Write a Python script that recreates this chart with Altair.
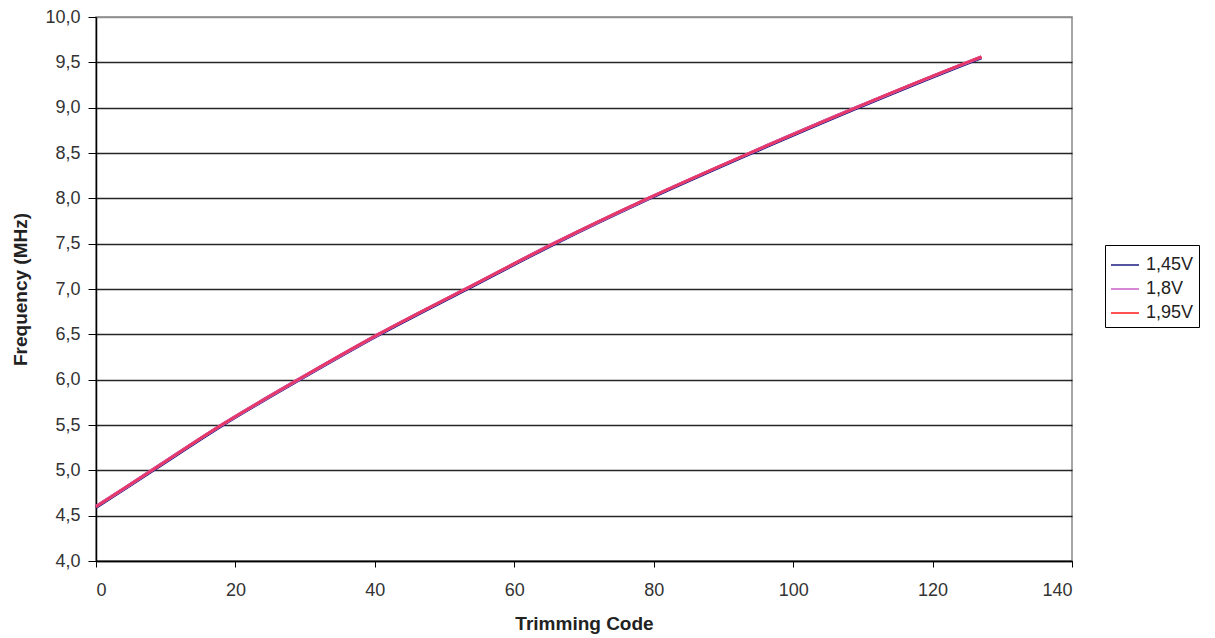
import altair as alt
import pandas as pd

codes = [0, 8, 18, 29, 40.5, 53, 65.6, 79.2, 93.8, 109, 125, 127]
freq_145 = [4.59, 4.99, 5.49, 5.99, 6.49, 6.99, 7.49, 7.99, 8.49, 8.99, 9.49, 9.55]
freq_18 = [4.60, 5.00, 5.50, 6.00, 6.50, 7.00, 7.50, 8.00, 8.50, 9.00, 9.50, 9.56]
freq_195 = [4.60, 5.00, 5.50, 6.00, 6.50, 7.00, 7.50, 8.00, 8.50, 9.00, 9.50, 9.56]
series = ["1,45V", "1,8V", "1,95V"]
colors = ["#1a1a80", "#c860c8", "#ff1a1a"]

rows = []
for name, vals in zip(series, [freq_145, freq_18, freq_195]):
    for c, f in zip(codes, vals):
        rows.append({"code": c, "freq": f, "series": name})
df = pd.DataFrame(rows)

font = "Liberation Sans"

x_enc = alt.X("code:Q",
              scale=alt.Scale(domain=[0, 140], nice=False),
              axis=alt.Axis(values=list(range(0, 141, 20)), title="Trimming Code",
                            grid=False, tickSize=6, labelPadding=14, titlePadding=15,
                            domainColor="#000000", tickColor="#000000", domainWidth=1.5))
y_enc = alt.Y("freq:Q",
              scale=alt.Scale(domain=[4, 10], nice=False, zero=False),
              axis=alt.Axis(values=[4 + 0.5 * i for i in range(13)], title="Frequency (MHz)",
                            labelExpr="replace(format(datum.value, '.1f'), '.', ',')",
                            grid=True,
                            gridColor=alt.condition("datum.value == 10", alt.value("#888888"), alt.value("#000000")),
                            gridWidth=1.5, gridOpacity=0.85,
                            tickSize=8, labelPadding=8, titlePadding=14,
                            domainColor="#000000", tickColor="#000000", domainWidth=1.5))

base = alt.Chart(df)

legend_layer = base.mark_line(interpolate="monotone", strokeWidth=3).encode(
    x=x_enc, y=y_enc,
    color=alt.Color("series:N", sort=series,
                    scale=alt.Scale(domain=series, range=colors),
                    legend=alt.Legend(title=None, orient="none", legendX=1009, legendY=228,
                                      symbolType="stroke", symbolSize=784, symbolStrokeWidth=1.5,
                                      symbolOpacity=1,
                                      strokeColor="#000000", padding=5, rowPadding=0,
                                      labelFontSize=18, labelFont=font, labelColor="#222222",
                                      labelOffset=6, fillColor="#ffffff")),
)

mid_layer = base.transform_filter(alt.datum.series == "1,8V").mark_line(
    interpolate="monotone", strokeWidth=3, color=colors[1]
).encode(x="code:Q", y="freq:Q")

top_layer = base.transform_filter(alt.datum.series == "1,95V").mark_line(
    interpolate="monotone", strokeWidth=2.2, color=colors[2], opacity=0.6
).encode(x="code:Q", y="freq:Q")

chart = alt.layer(legend_layer, mid_layer, top_layer).properties(
    width=976, height=544,
    autosize=alt.AutoSizeParams(type="none"),
    padding={"left": 88, "top": 9, "right": 131, "bottom": 75},
).configure_axis(
    labelFont=font, labelFontSize=18, labelColor="#333333",
    titleFont=font, titleFontSize=19, titleFontWeight="bold", titleColor="#222222",
).configure_view(
    stroke="#888888", strokeWidth=1.5,
)

chart.save("out.html", embed_options={"renderer": "svg", "actions": False})
